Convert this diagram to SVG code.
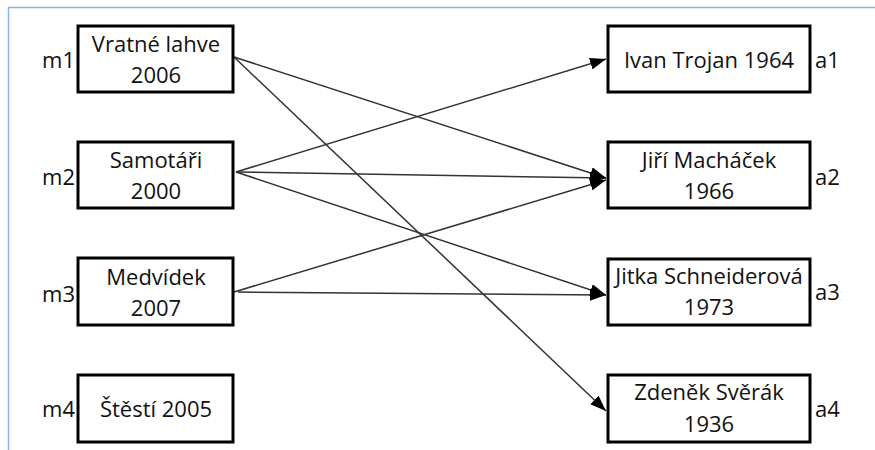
<svg xmlns="http://www.w3.org/2000/svg" width="875" height="450" viewBox="0 0 875 450">
<style>
.box{fill:#fff;stroke:#000;stroke-width:3}
.t{font-family:"Open Sans","Liberation Sans",sans-serif;font-size:22px;fill:#111;text-anchor:middle}
.lbl{font-family:"Open Sans","Liberation Sans",sans-serif;font-size:22px;fill:#111}
.r{text-anchor:end}
.c{stroke:#333;stroke-width:1.5;fill:none;marker-end:url(#ah)}
</style>
<defs>
<marker id="ah" markerUnits="userSpaceOnUse" markerWidth="16" markerHeight="12" viewBox="0 0 16 12" refX="16" refY="6" orient="auto">
<path d="M0,0 L16,6 L0,12 Z" fill="#000"/>
</marker>
</defs>
<rect x="0" y="0" width="875" height="450" fill="#fff"/>
<path d="M8.5,450 V7.5 H875" fill="none" stroke="#8db3e2" stroke-width="1.5"/>
<g id="connectors">
<line class="c" x1="234" y1="57" x2="606" y2="178"/>
<line class="c" x1="234" y1="57" x2="606" y2="411"/>
<line class="c" x1="236" y1="172" x2="606" y2="59"/>
<line class="c" x1="236" y1="172" x2="606" y2="178"/>
<line class="c" x1="236" y1="172" x2="606" y2="295"/>
<line class="c" x1="234" y1="292" x2="606" y2="180"/>
<line class="c" x1="238" y1="292" x2="606" y2="295"/>
</g>
<g id="m1"><rect class="box" x="78" y="26" width="155" height="66"/><text class="t" x="156" y="52">Vratné lahve</text><text class="t" x="156" y="83">2006</text><text class="lbl r" x="75" y="68">m1</text></g>
<g id="m2"><rect class="box" x="78" y="142" width="155" height="66"/><text class="t" x="156" y="168">Samotáři</text><text class="t" x="156" y="199">2000</text><text class="lbl r" x="75" y="185">m2</text></g>
<g id="m3"><rect class="box" x="78" y="258" width="155" height="67"/><text class="t" x="156" y="285">Medvídek</text><text class="t" x="156" y="316">2007</text><text class="lbl r" x="75" y="302">m3</text></g>
<g id="m4"><rect class="box" x="78" y="375" width="155" height="67"/><text class="t" x="156" y="417">Štěstí 2005</text><text class="lbl r" x="75" y="417">m4</text></g>
<g id="a1"><rect class="box" x="608" y="26" width="202" height="66"/><text class="t" x="709" y="68">Ivan Trojan 1964</text><text class="lbl" x="815" y="68">a1</text></g>
<g id="a2"><rect class="box" x="608" y="142" width="202" height="66"/><text class="t" x="709" y="168">Jiří Macháček</text><text class="t" x="709" y="199">1966</text><text class="lbl" x="815" y="185">a2</text></g>
<g id="a3"><rect class="box" x="608" y="259" width="202" height="66"/><text class="t" x="709" y="284">Jitka Schneiderová</text><text class="t" x="709" y="315">1973</text><text class="lbl" x="815" y="300">a3</text></g>
<g id="a4"><rect class="box" x="608" y="375" width="202" height="67"/><text class="t" x="709" y="400">Zdeněk Svěrák</text><text class="t" x="709" y="432">1936</text><text class="lbl" x="815" y="417">a4</text></g>
</svg>
